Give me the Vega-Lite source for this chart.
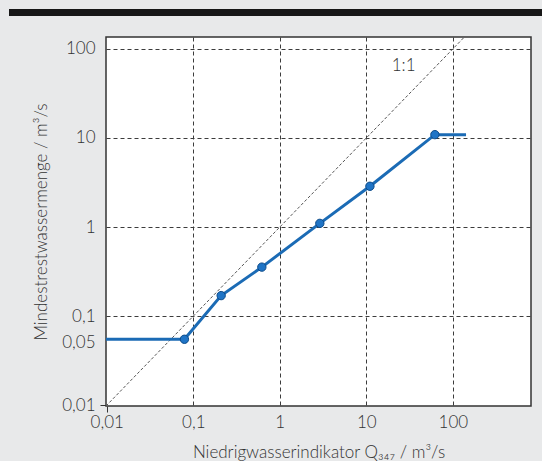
{
  "$schema": "https://vega.github.io/schema/vega-lite/v6.json",
  "background": "#e8e9ea",
  "padding": {"left": 9, "top": 9, "right": 0, "bottom": 0},
  "config": {"font": "Lato", "view": {"stroke": null}},
  "datasets": {
    "curve": [
      {"q347": 0.0098, "qmin": 0.055},
      {"q347": 0.079, "qmin": 0.055},
      {"q347": 0.21, "qmin": 0.17},
      {"q347": 0.62, "qmin": 0.355},
      {"q347": 2.9, "qmin": 1.1},
      {"q347": 11, "qmin": 2.87},
      {"q347": 62, "qmin": 10.9},
      {"q347": 142, "qmin": 10.9}
    ],
    "points": [
      {"q347": 0.079, "qmin": 0.055},
      {"q347": 0.21, "qmin": 0.17},
      {"q347": 0.62, "qmin": 0.355},
      {"q347": 2.9, "qmin": 1.1},
      {"q347": 11, "qmin": 2.87},
      {"q347": 62, "qmin": 10.9}
    ],
    "diagonal": [
      {"q347": 0.0098, "qmin": 0.0098},
      {"q347": 136, "qmin": 136}
    ],
    "label": [
      {"q347": 27, "qmin": 65, "text": "1:1"}
    ]
  },
  "spacing": 18,
  "vconcat": [
    {
      "width": 425,
      "height": 7,
      "data": {"values": [{"start": 0, "end": 1}]},
      "mark": {"type": "rect", "color": "#171717"},
      "encoding": {
        "x": {"field": "start", "type": "quantitative", "scale": {"domain": [0, 1], "range": [-97, 436]}, "axis": null},
        "x2": {"field": "end"}
      }
    },
    {
      "width": 425,
      "height": 369,
      "view": {"fill": "white", "stroke": "#333333", "strokeWidth": 1.5},
      "encoding": {
        "x": {
          "field": "q347",
          "type": "quantitative",
          "scale": {"type": "log", "domain": [0.0098, 800], "nice": false},
          "axis": {
            "title": "Niedrigwasserindikator Q₃₄₇ / m³/s",
            "values": [0.01, 0.1, 1, 10, 100],
            "labelExpr": "replace(toString(datum.value), '.', ',')",
            "domain": false,
            "grid": true,
            "gridDash": [4, 3],
            "gridWidth": 1,
            "gridColor": {"condition": {"test": "datum.value < 0.05", "value": "transparent"}, "value": "#3c3c3c"},
            "ticks": true,
            "tickSize": 6,
            "tickColor": {"condition": {"test": "datum.value < 0.05", "value": "#333333"}, "value": "transparent"},
            "labelFont": "Lato",
            "labelFontWeight": 300,
            "labelFontSize": 17,
            "labelColor": "#333333",
            "labelPadding": 2,
            "labelFlush": false,
            "titleFont": "Lato",
            "titleFontWeight": 300,
            "titleFontSize": 17,
            "titleColor": "#333333",
            "titlePadding": 14
          }
        },
        "y": {
          "field": "qmin",
          "type": "quantitative",
          "scale": {"type": "log", "domain": [0.0098, 136], "nice": false},
          "axis": {
            "title": "Mindestrestwassermenge  / m³/s",
            "values": [0.01, 0.05, 0.1, 1, 10, 100],
            "labelExpr": "replace(toString(datum.value), '.', ',')",
            "domain": false,
            "grid": true,
            "gridDash": [4, 3],
            "gridWidth": 1,
            "gridColor": {"condition": {"test": "datum.value < 0.08", "value": "transparent"}, "value": "#3c3c3c"},
            "ticks": true,
            "tickSize": 6,
            "tickColor": {"condition": {"test": "datum.value < 0.02", "value": "#333333"}, "value": "transparent"},
            "labelFont": "Lato",
            "labelFontWeight": 300,
            "labelFontSize": 17,
            "labelColor": "#333333",
            "labelPadding": 5,
            "labelFlush": false,
            "labelOverlap": false,
            "titleFont": "Lato",
            "titleFontWeight": 300,
            "titleFontSize": 17,
            "titleColor": "#333333",
            "titlePadding": 11
          }
        }
      },
      "layer": [
        {
          "data": {"name": "diagonal"},
          "mark": {"type": "line", "color": "#555555", "strokeWidth": 1, "strokeDash": [3, 2]}
        },
        {
          "data": {"name": "curve"},
          "mark": {"type": "line", "color": "#1b6bb5", "strokeWidth": 3}
        },
        {
          "data": {"name": "points"},
          "mark": {"type": "point", "filled": true, "fill": "#1f74c6", "stroke": "#0c4a88", "strokeWidth": 1, "size": 70, "opacity": 1}
        },
        {
          "data": {"name": "label"},
          "mark": {"type": "text", "font": "Lato", "fontWeight": 300, "fontSize": 17, "color": "#333333"},
          "encoding": {"text": {"field": "text"}}
        }
      ]
    }
  ]
}
